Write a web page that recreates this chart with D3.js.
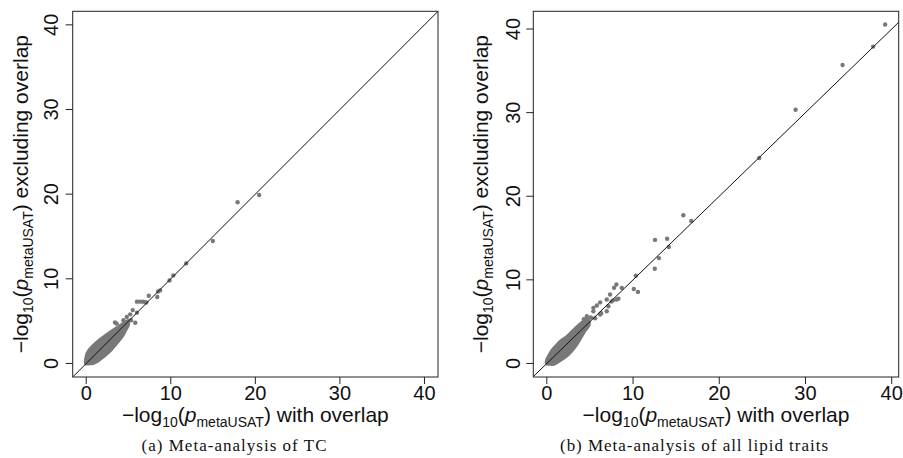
<!DOCTYPE html>
<html lang="en">
<head>
    <meta charset="UTF-8">
    <title>metaUSAT overlap comparison</title>
    <script src="https://d3js.org/d3.v7.min.js"></script>
    <style>
        body { margin: 0; padding: 0; background-color: #fff; overflow: hidden; }
        svg text { font-family: "Liberation Sans", Arial, sans-serif; fill: #111; }
        svg text.caption { font-family: "Liberation Serif", "DejaVu Serif", serif; }
    </style>
</head>
<body>
    <div id="chart"></div>
    <script>
        const ticks = [0, 10, 20, 30, 40];
        const captions = ["(a)  Meta-analysis of TC", "(b)  Meta-analysis of all lipid traits"];

        // dense cloud of points near the origin, traced as an outline
        const tcCloud = [[-0.05, -0.05], [0.0, 0.9], [0.3, 1.55], [0.9, 2.2], [1.6, 2.8], [2.4, 3.4],
            [3.2, 3.95], [3.9, 4.4], [4.5, 4.8], [4.9, 5.0], [5.0, 4.6], [4.6, 3.8], [4.2, 3.1],
            [3.5, 2.25], [2.8, 1.45], [2.0, 0.75], [1.4, 0.3], [0.8, 0.0], [0.3, -0.05]];
        const tcPoints = [[20.45, 19.9], [17.9, 19.05], [14.97, 14.46], [11.82, 11.82], [10.3, 10.4],
            [9.85, 9.8], [8.75, 8.63], [8.5, 8.5], [8.4, 7.85], [7.4, 8.0], [7.1, 7.2], [6.0, 7.3],
            [6.35, 7.3], [6.7, 7.3], [6.95, 7.25], [5.8, 4.8], [6.0, 6.0], [5.5, 6.3], [5.2, 5.8],
            [4.8, 5.5], [4.4, 5.1], [4.8, 4.6], [3.4, 4.85], [3.6, 4.7], [5.3, 5.1], [4.6, 4.4], [5.0, 5.0]];

        const lipidCloud = [[-0.05, -0.05], [0.0, 0.5], [0.2, 0.9], [0.6, 1.6], [1.0, 2.05], [1.5, 2.6],
            [2.3, 3.2], [2.9, 3.8], [3.5, 4.4], [4.1, 4.95], [4.5, 5.3], [4.9, 5.1], [4.9, 4.6],
            [4.5, 4.0], [3.9, 3.0], [3.3, 2.0], [2.5, 1.05], [1.7, 0.45], [0.8, -0.1], [0.3, -0.1]];
        const lipidPoints = [[39.24, 40.54], [37.85, 37.9], [34.3, 35.7], [28.85, 30.35], [24.64, 24.57],
            [15.83, 17.72], [16.75, 17.05], [12.55, 14.78], [13.95, 14.92], [14.15, 13.92], [13.0, 12.6],
            [12.52, 11.33], [10.32, 10.5], [10.09, 8.9], [10.57, 8.56], [8.69, 9.04], [8.07, 9.44],
            [7.8, 9.06], [7.33, 8.24], [8.1, 7.65], [7.7, 7.55], [6.95, 7.65], [7.14, 6.85], [6.95, 6.25],
            [6.18, 7.3], [5.8, 6.93], [5.4, 6.65], [6.18, 5.85], [4.64, 5.65], [5.4, 6.25], [4.8, 5.06],
            [6.3, 6.0], [5.6, 5.4], [5.1, 5.5], [4.3, 5.3], [7.5, 7.4], [8.3, 7.75]];

        const width = 903, height = 458;
        const dotColor = "#787878";

        const svg = d3.select("#chart").append("svg")
            .attr("width", width)
            .attr("height", height);

        // builds -log10(p_metaUSAT) ... label with sub/italic parts
        function addLabel(g, suffix) {
            const t = g.append("text")
                .attr("text-anchor", "middle")
                .attr("font-size", 21);
            t.append("tspan").text("\u2212log");
            t.append("tspan").attr("font-size", 14).attr("dy", 5).text("10");
            t.append("tspan").attr("dy", -5).text("(");
            t.append("tspan").attr("font-style", "italic").text("p");
            t.append("tspan").attr("font-size", 14).attr("dy", 5).text("metaUSAT");
            t.append("tspan").attr("dy", -5).text(") " + suffix);
            return t;
        }

        function drawPanel(p) {
            const x = d3.scaleLinear().domain(p.xDomain).range([p.left, p.right]);
            const y = d3.scaleLinear().domain(p.yDomain).range([p.bottom, p.top]);
            const g = svg.append("g");

            g.append("clipPath").attr("id", "clip" + p.id)
                .append("rect")
                .attr("x", p.left).attr("y", p.top)
                .attr("width", p.right - p.left).attr("height", p.bottom - p.top);

            const plot = g.append("g").attr("clip-path", `url(#clip${p.id})`);

            // cloud outline
            plot.append("path")
                .datum(p.cloud)
                .attr("d", d3.line().x(d => x(d[0])).y(d => y(d[1])).curve(d3.curveCatmullRomClosed))
                .attr("fill", dotColor)
                .attr("stroke", dotColor)
                .attr("stroke-width", 3)
                .attr("stroke-linejoin", "round");

            plot.selectAll(".dot")
                .data(p.points)
                .enter().append("circle")
                .attr("class", "dot")
                .attr("cx", d => x(d[0]))
                .attr("cy", d => y(d[1]))
                .attr("r", 2.2)
                .attr("fill", dotColor);

            // y = x reference line
            const lo = Math.min(p.xDomain[0], p.yDomain[0]);
            const hi = Math.max(p.xDomain[1], p.yDomain[1]);
            plot.append("line")
                .attr("x1", x(lo)).attr("y1", y(lo))
                .attr("x2", x(hi)).attr("y2", y(hi))
                .attr("stroke", "#111")
                .attr("stroke-width", 1);

            g.append("rect")
                .attr("x", p.left).attr("y", p.top)
                .attr("width", p.right - p.left).attr("height", p.bottom - p.top)
                .attr("fill", "none")
                .attr("stroke", "#222")
                .attr("stroke-width", 1);

            // ticks
            g.selectAll(".xt").data(ticks).enter().append("line")
                .attr("x1", d => x(d)).attr("x2", d => x(d))
                .attr("y1", p.bottom).attr("y2", p.bottom + 7)
                .attr("stroke", "#222");
            g.selectAll(".xl").data(ticks).enter().append("text")
                .attr("x", d => x(d)).attr("y", 400)
                .attr("text-anchor", "middle")
                .attr("font-size", 20)
                .text(d => d);

            g.selectAll(".yt").data(ticks).enter().append("line")
                .attr("x1", p.left - 7).attr("x2", p.left)
                .attr("y1", d => y(d)).attr("y2", d => y(d))
                .attr("stroke", "#222");
            g.selectAll(".yl").data(ticks).enter().append("text")
                .attr("transform", d => `translate(${p.yTickX},${y(d)}) rotate(-90)`)
                .attr("text-anchor", "middle")
                .attr("font-size", 20)
                .text(d => d);

            addLabel(g, "with overlap")
                .attr("x", (p.left + p.right) / 2)
                .attr("y", 422);
            addLabel(g, "excluding overlap")
                .attr("transform", `translate(${p.yLabelX},${(p.top + p.bottom) / 2}) rotate(-90)`);

            g.append("text")
                .attr("class", "caption")
                .attr("x", p.captionX).attr("y", 451)
                .attr("text-anchor", "middle")
                .attr("font-size", 17)
                .attr("textLength", p.captionW)
                .attr("lengthAdjust", "spacing")
                .text(p.caption);
        }

        drawPanel({
            id: "a", left: 72.7, right: 438, top: 11.3, bottom: 377,
            xDomain: [-1.6, 41.6], yDomain: [-1.6, 41.6],
            cloud: tcCloud, points: tcPoints,
            yTickX: 58, yLabelX: 28, captionX: 234, captionW: 185, caption: captions[0]
        });

        drawPanel({
            id: "b", left: 533.3, right: 898.7, top: 11.3, bottom: 377,
            xDomain: [-1.57, 40.81], yDomain: [-1.62, 42.12],
            cloud: lipidCloud, points: lipidPoints,
            yTickX: 520, yLabelX: 488, captionX: 694, captionW: 268, caption: captions[1]
        });
    </script>
</body>
</html>
